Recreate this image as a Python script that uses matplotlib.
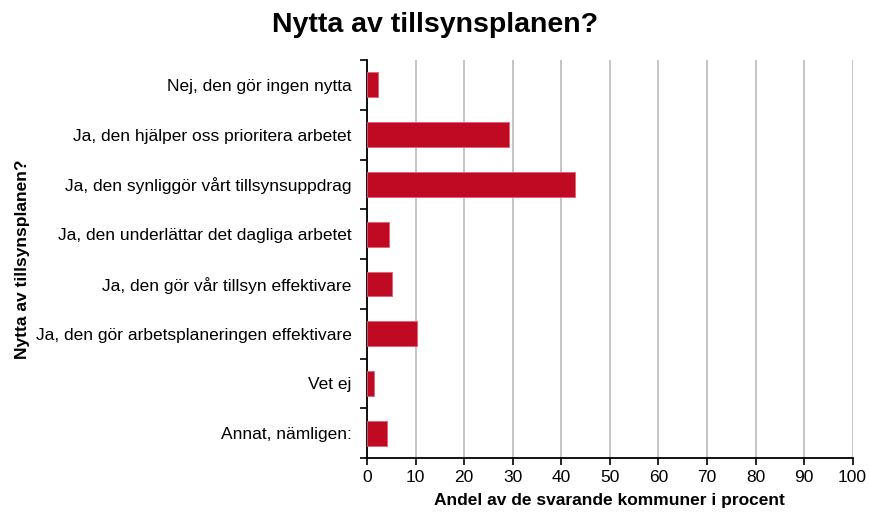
import numpy as np
import matplotlib.pyplot as plt

plt.rcParams['font.family'] = ['Liberation Sans', 'DejaVu Sans']

categories = ['Nej, den gör ingen nytta',
              'Ja, den hjälper oss prioritera arbetet',
              'Ja, den synliggör vårt tillsynsuppdrag',
              'Ja, den underlättar det dagliga arbetet',
              'Ja, den gör vår tillsyn effektivare',
              'Ja, den gör arbetsplaneringen effektivare',
              'Vet ej',
              'Annat, nämligen:']
values = [2.3, 29.2, 42.9, 4.6, 5.2, 10.2, 1.5, 4.1]
xticks = [0, 10, 20, 30, 40, 50, 60, 70, 80, 90, 100]

fig = plt.figure(figsize=(8.7, 5.13), dpi=100)
ax = fig.add_axes([0.422, 0.107, 0.558, 0.776])

y = np.arange(len(categories))
ax.barh(y, values, height=0.5, color='#C00A23', edgecolor='#E06070', linewidth=0.6, zorder=3)

ax.set_ylim(len(categories) - 0.5, -0.5)
ax.set_xlim(0, 100)
ax.set_xticks(xticks)
ax.set_yticks(y)
ax.set_yticklabels(categories, fontsize=12.5)
ax.set_yticks(np.arange(-0.5, len(categories)), minor=True)
ax.tick_params(axis='y', which='major', length=0, pad=11)
ax.tick_params(axis='y', which='minor', length=5, width=1.2, direction='out')
ax.tick_params(axis='x', length=5, width=1.2, labelsize=12.5, direction='out')

ax.grid(axis='x', color='#BBBBBB', linewidth=1.2, zorder=0)
for s in ['top', 'right']:
    ax.spines[s].set_visible(False)
ax.spines['left'].set_linewidth(1.3)
ax.spines['bottom'].set_linewidth(1.3)

ax.set_xlabel('Andel av de svarande kommuner i procent', fontsize=12.5, fontweight='bold', labelpad=6)
ax.set_ylabel('Nytta av tillsynsplanen?', fontsize=12.5, fontweight='bold')
ax.yaxis.set_label_coords(-0.694, 0.5)
fig.text(0.5, 0.951, 'Nytta av tillsynsplanen?', fontsize=20.5, fontweight='bold', ha='center', va='center')

plt.savefig('out.png', dpi=100)
